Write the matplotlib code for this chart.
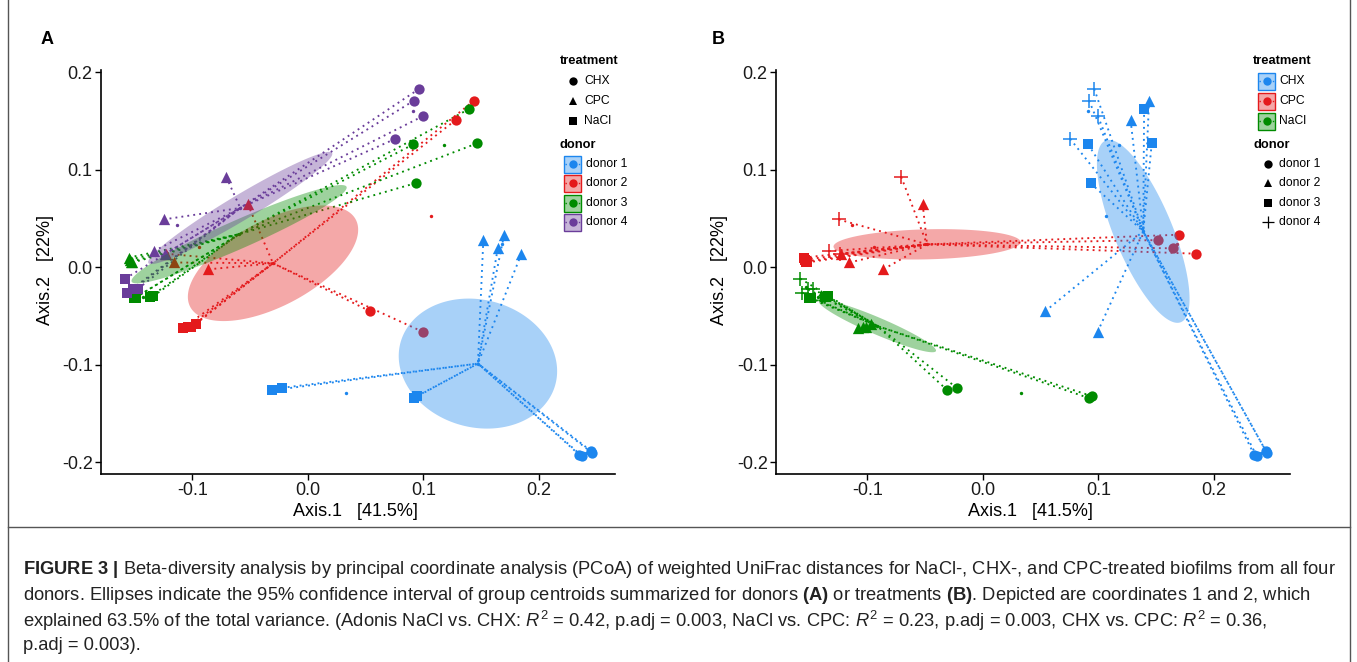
import numpy as np
import matplotlib
matplotlib.use("Agg")
import matplotlib.pyplot as plt
from matplotlib.patches import Polygon, Rectangle
from matplotlib import font_manager

names = {f.name for f in font_manager.fontManager.ttflist}
BASE = "Liberation Sans"
CAP = "Liberation Sans Narrow" if "Liberation Sans Narrow" in names else BASE
plt.rcParams["font.family"] = [BASE, "DejaVu Sans"]
plt.rcParams["mathtext.fontset"] = "custom"
plt.rcParams["mathtext.rm"] = CAP
plt.rcParams["mathtext.it"] = CAP + ":italic"
plt.rcParams["mathtext.bf"] = CAP + ":bold"

# ---- data: PCoA coordinates, 4 replicates per donor x treatment ----
donors = ["donor 1", "donor 2", "donor 3", "donor 4"]
treatments = ["CHX", "CPC", "NaCl"]

axis1 = [
    0.235, 0.237, 0.245, 0.246,        # donor 1 CHX
    0.152, 0.170, 0.1645, 0.185,       # donor 1 CPC
    -0.0306, -0.0225, 0.092, 0.0945,   # donor 1 NaCl
    0.054, 0.0995, 0.144, 0.128,       # donor 2 CHX
    -0.052, -0.1155, -0.086, -0.123,   # donor 2 CPC
    -0.108, -0.104, -0.101, -0.097,    # donor 2 NaCl
    0.1397, 0.1463, 0.0913, 0.0933,    # donor 3 CHX
    -0.155, -0.154, -0.152, -0.153,    # donor 3 CPC
    -0.150, -0.149, -0.137, -0.134,    # donor 3 NaCl
    0.0965, 0.092, 0.0997, 0.0757,     # donor 4 CHX
    -0.0706, -0.1248, -0.1334, -0.124, # donor 4 CPC
    -0.158, -0.1565, -0.151, -0.147,   # donor 4 NaCl
]
axis2 = [
    -0.192, -0.193, -0.188, -0.190,
    0.028, 0.0335, 0.0195, 0.014,
    -0.126, -0.1235, -0.134, -0.132,
    -0.045, -0.066, 0.171, 0.151,
    0.065, 0.005, -0.002, 0.014,
    -0.062, -0.0615, -0.061, -0.058,
    0.1624, 0.127, 0.126, 0.0863,
    0.010, 0.008, 0.005, 0.006,
    -0.0315, -0.031, -0.0305, -0.0298,
    0.183, 0.171, 0.155, 0.1317,
    0.0928, 0.0491, 0.0167, 0.0133,
    -0.0115, -0.026, -0.0225, -0.022,
]
sample_donor = [d for d in donors for t in treatments for r in range(4)]
sample_treat = [t for d in donors for t in treatments for r in range(4)]

x = np.array(axis1)
y = np.array(axis2)
sd = np.array(sample_donor)
st = np.array(sample_treat)

donor_col = {"donor 1": "#1C86EE", "donor 2": "#E41A1C", "donor 3": "#008B00", "donor 4": "#6A3D9A"}
treat_col = {"CHX": "#1C86EE", "CPC": "#E41A1C", "NaCl": "#008B00"}
treat_mk = {"CHX": "o", "CPC": "^", "NaCl": "s"}
donor_mk = {"donor 1": "o", "donor 2": "^", "donor 3": "s", "donor 4": "+"}
mk_size = {"o": 55, "^": 66, "s": 44, "+": 100}

CHI = np.sqrt(5.991)  # 95% chi-square, 2 df
DOT = (0, (1, 2.2))

W, H = 1357, 662
fig = plt.figure(figsize=(W / 100, H / 100), dpi=100)


def px_axes(l, t, r, b):
    return fig.add_axes([l / W, 1 - b / H, (r - l) / W, (b - t) / H])


def ellipse_pts(px, py):
    pts = np.column_stack([px, py])
    c = pts.mean(0)
    cov = np.cov(pts.T) / len(pts)
    vals, vecs = np.linalg.eigh(cov)
    t = np.linspace(0, 2 * np.pi, 200)
    circ = np.column_stack([np.cos(t), np.sin(t)]) * np.sqrt(vals) * CHI
    return c + circ @ vecs.T


def panel(ax, grp, groups, gcol, shp, shapes):
    # spider lines to group centroid
    for g in groups:
        m = grp == g
        cx, cy = x[m].mean(), y[m].mean()
        for xi, yi in zip(x[m], y[m]):
            ax.plot([xi, cx], [yi, cy], color=gcol[g], lw=1.35, ls=DOT, zorder=1)
        ax.scatter([cx], [cy], s=6, color=gcol[g], zorder=2, lw=0)
    # sub-group means
    for g in groups:
        for s in shapes:
            m = (grp == g) & (shp == s)
            ax.scatter([x[m].mean()], [y[m].mean()], s=6, color=gcol[g], zorder=2, lw=0)
    # samples
    for g in groups:
        for s in shapes:
            m = (grp == g) & (shp == s)
            mk = shapes[s]
            if mk == "+":
                ax.scatter(x[m], y[m], marker=mk, s=mk_size[mk], color=gcol[g], linewidths=1.1, zorder=2)
            else:
                ax.scatter(x[m], y[m], marker=mk, s=mk_size[mk], color=gcol[g], lw=0, zorder=2)
    # confidence ellipses on top
    for g in groups:
        m = grp == g
        ax.add_patch(Polygon(ellipse_pts(x[m], y[m]), closed=True, facecolor=gcol[g],
                             alpha=0.38, edgecolor="none", zorder=3))
    ax.set_xlim(-0.179, 0.266)
    ax.set_ylim(-0.2118, 0.2023)
    ax.set_xticks([-0.1, 0.0, 0.1, 0.2])
    ax.set_xticklabels(["-0.1", "0.0", "0.1", "0.2"])
    ax.set_yticks([-0.2, -0.1, 0.0, 0.1, 0.2])
    ax.set_yticklabels(["-0.2", "-0.1", "0.0", "0.1", "0.2"])
    for sp in ["top", "right"]:
        ax.spines[sp].set_visible(False)
    for sp in ["left", "bottom"]:
        ax.spines[sp].set_linewidth(1.2)
    ax.tick_params(direction="out", length=4, width=1, labelsize=13, labelcolor="#1a1a1a", pad=2)
    ax.patch.set_visible(False)


axA = px_axes(101, 70, 615, 474)
axB = px_axes(776, 70, 1290, 474)
panel(axA, sd, donors, donor_col, st, treat_mk)
panel(axB, st, treatments, treat_col, sd, donor_mk)

# ---- overlay in pixel coordinates ----
ov = fig.add_axes([0, 0, 1, 1], zorder=10)
ov.set_xlim(0, W)
ov.set_ylim(H, 0)
ov.axis("off")

# frame
ov.plot([8, 8], [0, H], color="#555555", lw=1)
ov.plot([1350, 1350], [0, H], color="#555555", lw=1)
ov.plot([8, 1350], [527, 527], color="#555555", lw=1)

ov.text(47, 40, "A", fontsize=13, fontweight="bold", ha="center", va="center")
ov.text(718, 40, "B", fontsize=13, fontweight="bold", ha="center", va="center")

ov.text(355, 511, "Axis.1   [41.5%]", fontsize=13, ha="center", va="center")
ov.text(1030, 511, "Axis.1   [41.5%]", fontsize=13, ha="center", va="center")
ov.text(45, 270, "Axis.2   [22%]", fontsize=13, ha="center", va="center", rotation=90)
ov.text(720, 270, "Axis.2   [22%]", fontsize=13, ha="center", va="center", rotation=90)

legend_y = [81, 101, 121]
donor_y = [164, 183, 203, 222]


def key_box(xl, yc, c):
    ov.add_patch(Rectangle((xl, yc - 8.5), 17, 17, facecolor=c, alpha=0.38, edgecolor="none"))
    ov.add_patch(Rectangle((xl, yc - 8.5), 17, 17, facecolor="none", edgecolor=c, lw=1))
    ov.plot([xl + 1, xl + 16], [yc, yc], color=c, lw=1, ls=DOT)
    ov.plot([xl + 8.5], [yc], marker="o", ms=6, color=c, mew=0)


# legend A
ov.text(560, 61, "treatment", fontsize=9.3, fontweight="bold", va="center")
for t, yy in zip(treatments, legend_y):
    ov.plot([573], [yy], marker=treat_mk[t], ms=6 if t != "NaCl" else 5.5, color="black", mew=0)
    ov.text(584, yy, t, fontsize=8.7, va="center")
ov.text(560, 145, "donor", fontsize=9.3, fontweight="bold", va="center")
for d, yy in zip(donors, donor_y):
    key_box(564, yy, donor_col[d])
    ov.text(586, yy, d, fontsize=8.7, va="center")

# legend B
ov.text(1253, 61, "treatment", fontsize=9.3, fontweight="bold", va="center")
for t, yy in zip(treatments, legend_y):
    key_box(1258, yy, treat_col[t])
    ov.text(1279, yy, t, fontsize=8.7, va="center")
ov.text(1253, 145, "donor", fontsize=9.3, fontweight="bold", va="center")
for d, yy in zip(donors, donor_y):
    mk = donor_mk[d]
    ov.plot([1268], [yy], marker=mk, ms=6 if mk != "+" else 8, color="black",
            mew=0 if mk != "+" else 0.9)
    ov.text(1279, yy, d, fontsize=8.7, va="center")

# caption
cap_lines = [
    r"$\mathbf{FIGURE\ 3\ |}$ Beta-diversity analysis by principal coordinate analysis (PCoA) of weighted UniFrac distances for NaCl-, CHX-, and CPC-treated biofilms from all four",
    r"donors. Ellipses indicate the 95% confidence interval of group centroids summarized for donors $\mathbf{(A)}$ or treatments $\mathbf{(B)}$. Depicted are coordinates 1 and 2, which",
    r"explained 63.5% of the total variance. (Adonis NaCl vs. CHX: $\mathit{R}^{2}$ = 0.42, p.adj = 0.003, NaCl vs. CPC: $\mathit{R}^{2}$ = 0.23, p.adj = 0.003, CHX vs. CPC: $\mathit{R}^{2}$ = 0.36,",
    r"p.adj = 0.003).",
]
cap_y = [570, 596, 621, 645]
renderer = fig.canvas.get_renderer()
probe = ov.text(23, 570, cap_lines[0], fontsize=12, family=CAP)
wid = probe.get_window_extent(renderer).width
probe.remove()
cap_fs = 12 * 1315 / wid
for line, yy in zip(cap_lines, cap_y):
    ov.text(23, yy, line, fontsize=cap_fs, family=CAP, va="center", color="#222222")

fig.savefig("out.png", dpi=100)
